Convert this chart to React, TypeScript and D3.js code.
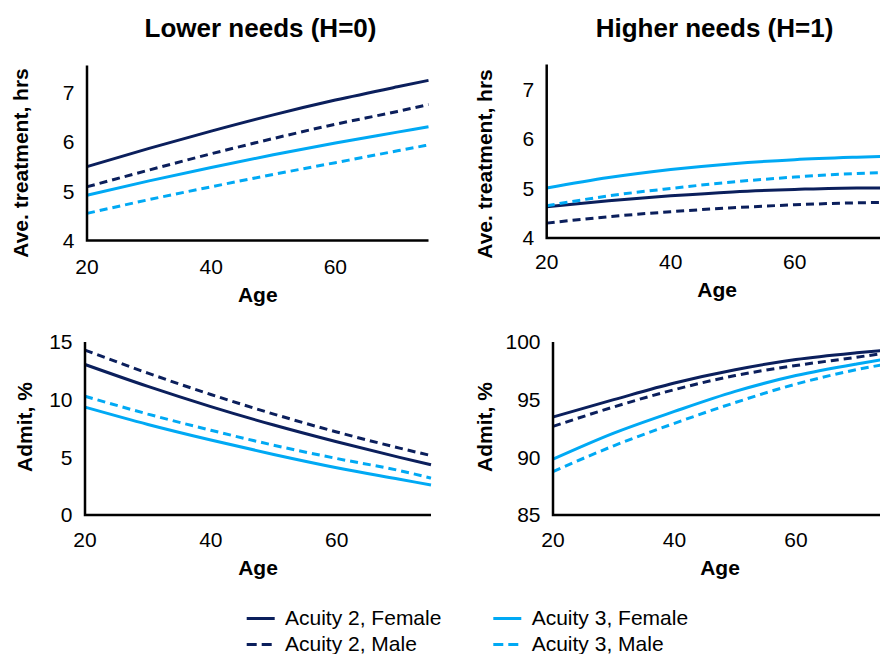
import React, { useEffect, useRef } from "react";
import * as d3 from "d3";

const ages = [20, 30, 40, 50, 60, 70, 75];
const xTicks = [20, 40, 60];

const seriesNames = ["Acuity 2, Female", "Acuity 2, Male", "Acuity 3, Female", "Acuity 3, Male"];

// Ave. treatment, hrs - lower needs (H=0)
const treatLowA2F = [5.5, 5.87, 6.22, 6.55, 6.85, 7.12, 7.25];
const treatLowA2M = [5.09, 5.43, 5.76, 6.07, 6.36, 6.62, 6.76];
const treatLowA3F = [4.92, 5.21, 5.48, 5.74, 5.98, 6.2, 6.31];
const treatLowA3M = [4.55, 4.83, 5.09, 5.34, 5.58, 5.82, 5.94];

// Ave. treatment, hrs - higher needs (H=1)
const treatHighA2F = [4.63, 4.75, 4.85, 4.93, 4.98, 5.01, 5.01];
const treatHighA2M = [4.3, 4.43, 4.53, 4.61, 4.67, 4.71, 4.72];
const treatHighA3F = [5.01, 5.22, 5.38, 5.5, 5.58, 5.63, 5.65];
const treatHighA3M = [4.65, 4.85, 5.0, 5.13, 5.23, 5.3, 5.32];

// Admit, % - lower needs
const admitLowA2F = [13.05, 11.15, 9.4, 7.8, 6.35, 5.0, 4.35];
const admitLowA2M = [14.3, 12.3, 10.45, 8.75, 7.2, 5.8, 5.15];
const admitLowA3F = [9.35, 7.85, 6.5, 5.25, 4.1, 3.1, 2.6];
const admitLowA3M = [10.3, 8.75, 7.35, 6.05, 4.9, 3.85, 3.2];

// Admit, % - higher needs
const admitHighA2F = [93.5, 95.0, 96.45, 97.6, 98.48, 99.06, 99.3];
const admitHighA2M = [92.68, 94.37, 95.87, 97.09, 97.96, 98.68, 99.06];
const admitHighA3F = [89.84, 92.1, 93.98, 95.72, 97.09, 98.1, 98.54];
const admitHighA3M = [88.77, 91.0, 92.95, 94.75, 96.35, 97.6, 98.1];

const DARK = "#0b1f5c";
const LIGHT = "#00a9f4";
const seriesColor = [DARK, DARK, LIGHT, LIGHT];
const seriesDash = [null, "8,5", null, "8,5"];

const FONT = "'Liberation Sans', Arial, Helvetica, sans-serif";

const panels = [
  {
    xRange: [87, 428.5], yDomain: [4, 7.55], yRange: [240.5, 65.6], yTicks: [4, 5, 6, 7],
    yLabel: "Ave. treatment, hrs", yLabelPos: [21, 163], xTickY: 266.7, ageY: 295,
    series: [treatLowA2F, treatLowA2M, treatLowA3F, treatLowA3M],
  },
  {
    xRange: [546.7, 887.7], yDomain: [4, 7.5], yRange: [238, 64.5], yTicks: [4, 5, 6, 7],
    yLabel: "Ave. treatment, hrs", yLabelPos: [485, 164], xTickY: 261.7, ageY: 290,
    series: [treatHighA2F, treatHighA2M, treatHighA3F, treatHighA3M],
  },
  {
    xRange: [85, 431], yDomain: [0, 15], yRange: [515, 342], yTicks: [0, 5, 10, 15],
    yLabel: "Admit, %", yLabelPos: [25, 427], xTickY: 540, ageY: 568,
    series: [admitLowA2F, admitLowA2M, admitLowA3F, admitLowA3M],
  },
  {
    xRange: [553, 887], yDomain: [85, 100], yRange: [515, 342], yTicks: [85, 90, 95, 100],
    yLabel: "Admit, %", yLabelPos: [485, 427], xTickY: 540, ageY: 568,
    series: [admitHighA2F, admitHighA2M, admitHighA3F, admitHighA3M],
  },
];

const titles = [
  { text: "Lower needs (H=0)", x: 260.5 },
  { text: "Higher needs (H=1)", x: 714.5 },
];

export default function App() {
  const svgRef = useRef<SVGSVGElement>(null);

  useEffect(() => {
    const svg = d3.select(svgRef.current);
    svg.selectAll("*").remove();

    // panel titles
    svg
      .selectAll(".title")
      .data(titles)
      .enter()
      .append("text")
      .attr("x", (d) => d.x)
      .attr("y", 37)
      .attr("text-anchor", "middle")
      .style("font-size", "26px")
      .style("font-weight", "bold")
      .text((d) => d.text);

    panels.forEach((p) => {
      const x = d3.scaleLinear().domain([20, 75]).range(p.xRange);
      const y = d3.scaleLinear().domain(p.yDomain).range(p.yRange);
      const g = svg.append("g");

      // series lines
      const line = d3
        .line<number>()
        .x((_, i) => x(ages[i]))
        .y((v) => y(v))
        .curve(d3.curveMonotoneX);

      p.series.forEach((vals, i) => {
        g.append("path")
          .attr("d", line(vals))
          .attr("fill", "none")
          .attr("stroke", seriesColor[i])
          .attr("stroke-width", 3)
          .attr("stroke-dasharray", seriesDash[i]);
      });

      // axes (lines only, no tick marks)
      const [y0, y1] = p.yDomain;
      g.append("path")
        .attr("d", `M${x(20)},${y(y1)}V${y(y0)}H${x(75)}`)
        .attr("fill", "none")
        .attr("stroke", "#000")
        .attr("stroke-width", 2.5);

      g.selectAll(".ytick")
        .data(p.yTicks)
        .enter()
        .append("text")
        .attr("x", x(20) - 12.5)
        .attr("y", (d) => y(d))
        .attr("dy", "0.35em")
        .attr("text-anchor", "end")
        .style("font-size", "21px")
        .text((d) => d);

      g.selectAll(".xtick")
        .data(xTicks)
        .enter()
        .append("text")
        .attr("x", (d) => x(d))
        .attr("y", p.xTickY)
        .attr("dy", "0.35em")
        .attr("text-anchor", "middle")
        .style("font-size", "21px")
        .text((d) => d);

      g.append("text")
        .attr("x", (x(20) + x(75)) / 2)
        .attr("y", p.ageY)
        .attr("dy", "0.35em")
        .attr("text-anchor", "middle")
        .style("font-size", "21px")
        .style("font-weight", "bold")
        .text("Age");

      g.append("text")
        .attr("transform", `translate(${p.yLabelPos[0]},${p.yLabelPos[1]}) rotate(-90)`)
        .attr("dy", "0.35em")
        .attr("text-anchor", "middle")
        .style("font-size", "21px")
        .style("font-weight", "bold")
        .text(p.yLabel);
    });

    // legend
    const legend = svg.append("g");
    const cols = [
      { lineX: 246.7, textX: 285 },
      { lineX: 493.3, textX: 531.7 },
    ];
    const rows = [618.5, 644.5];
    seriesNames.forEach((name, i) => {
      const c = cols[Math.floor(i / 2)];
      const ry = rows[i % 2];
      legend
        .append("line")
        .attr("x1", c.lineX)
        .attr("x2", c.lineX + 28)
        .attr("y1", ry)
        .attr("y2", ry)
        .attr("stroke", seriesColor[i])
        .attr("stroke-width", 3)
        .attr("stroke-dasharray", seriesDash[i] ? "10,5" : null);
      legend
        .append("text")
        .attr("x", c.textX)
        .attr("y", ry - 1)
        .attr("dy", "0.35em")
        .style("font-size", "21px")
        .text(name);
    });
  }, []);

  return (
    <svg
      ref={svgRef}
      width={880}
      height={654}
      style={{ position: "absolute", left: 0, top: 0, display: "block", fontFamily: FONT, background: "#fff" }}
    />
  );
}
